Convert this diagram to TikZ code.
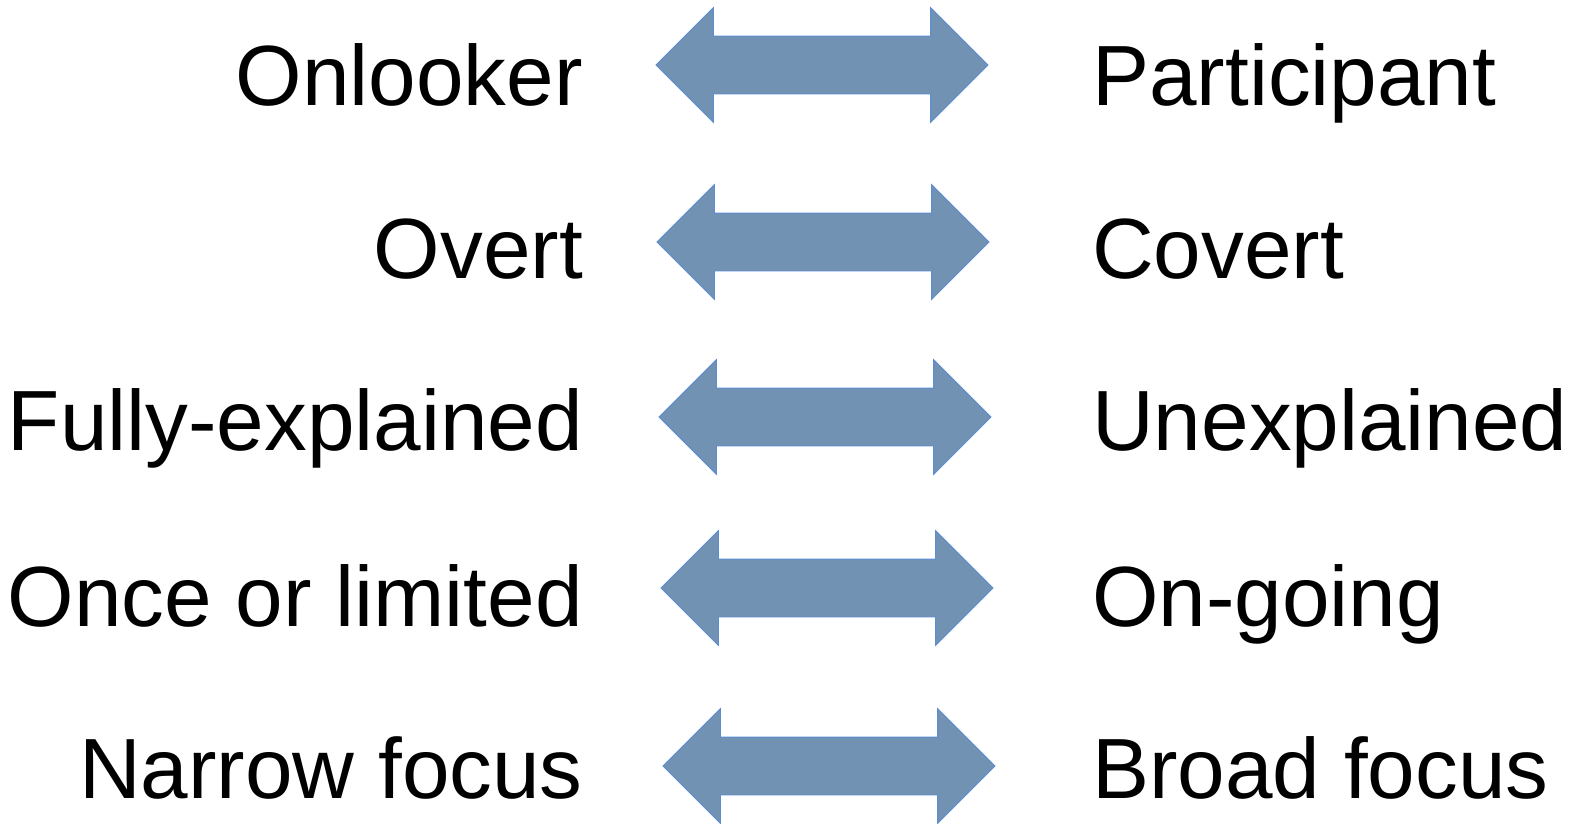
\documentclass[tikz,border=0pt]{standalone}
\usepackage{fontspec}
\setmainfont{Liberation Sans}
\usetikzlibrary{shapes.arrows}
\definecolor{arrowfill}{RGB}{114,146,179}
\definecolor{arrowline}{RGB}{92,140,210}
\begin{document}
\begin{tikzpicture}
    [
        x=1pt, y=-1pt,
        label/.style={font=\fontsize{85.5pt}{100pt}\selectfont, inner sep=0pt},
        left/.style={label, anchor=base east},
        right/.style={label, anchor=base west},
        twoway/.style={double arrow, fill=arrowfill, draw=arrowline, thick, inner xsep=0pt, inner ysep=28.5pt,
            minimum height=332pt, double arrow head extend=28.5pt}
    ]
    \useasboundingbox (0,0) rectangle (1578,823);

    % Left terms
    \node[left] (onlooker) at (583,105) {Onlooker};
    \node[left] (overt) at (583,278) {Overt};
    \node[left] (fully) at (583,450) {Fully-explained};
    \node[left] (once) at (583,626) {Once or limited};
    \node[left] (narrow) at (583,798) {Narrow focus};

    % Right terms
    \node[right] (participant) at (1092,105) {Participant};
    \node[right] (covert) at (1092,278) {Covert};
    \node[right] (unexplained) at (1092,450) {Unexplained};
    \node[right] (ongoing) at (1092,626) {On-going};
    \node[right] (broad) at (1092,798) {Broad focus};

    % Arrows
    \node[twoway] (arrowa) at (822,65) {};
    \node[twoway] (arrowb) at (823,242) {};
    \node[twoway] (arrowc) at (825,417) {};
    \node[twoway] (arrowd) at (827,588) {};
    \node[twoway] (arrowe) at (829,766) {};
\end{tikzpicture}
\end{document}
